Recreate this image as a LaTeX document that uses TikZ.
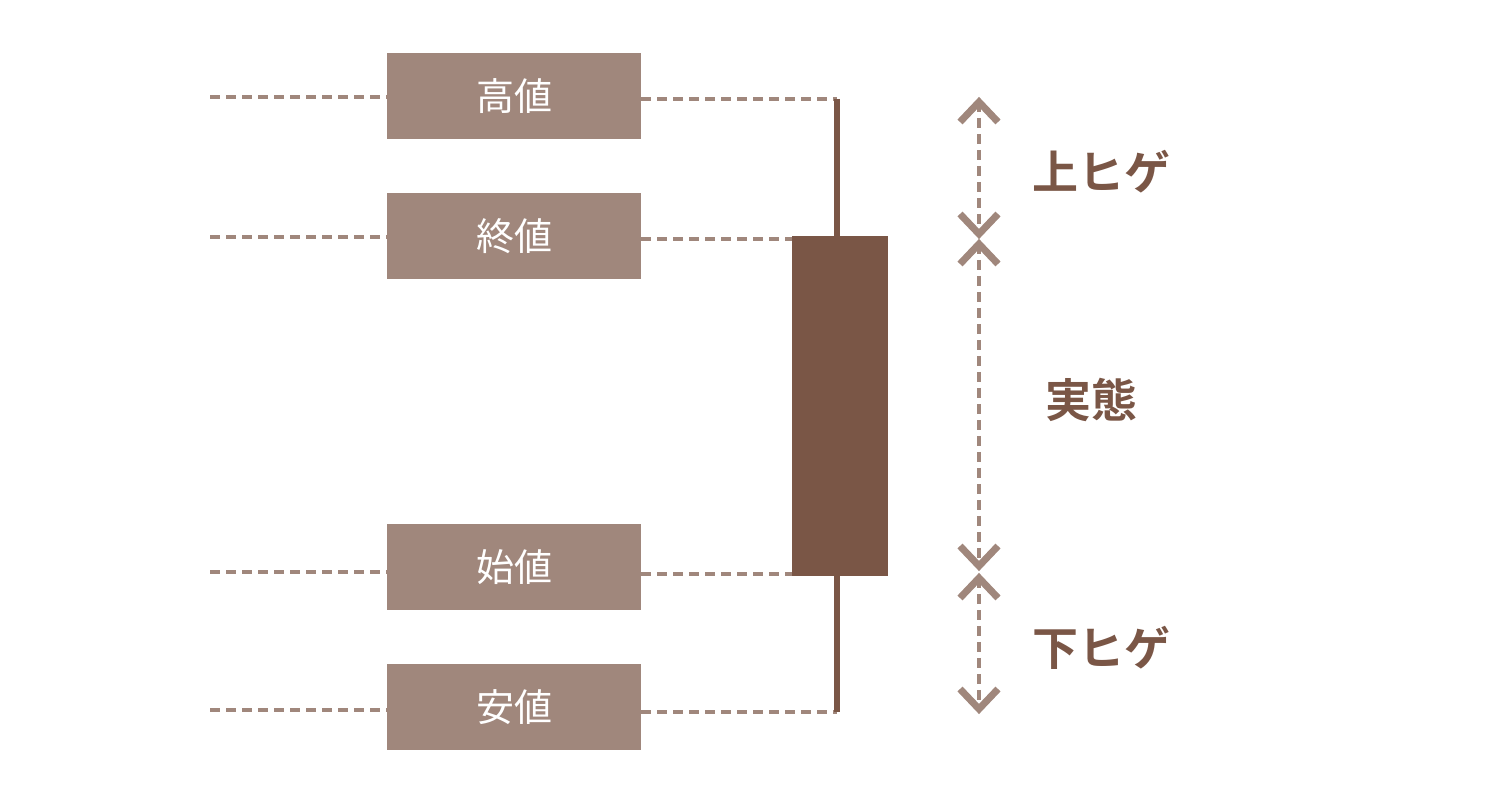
\documentclass[tikz,border=0pt]{standalone}
\usepackage{fontspec}
\newfontfamily\cjk{Noto Sans CJK JP}
\newfontfamily\cjkb{Noto Sans CJK JP Bold}
\definecolor{lbr}{HTML}{A0877C}
\definecolor{dbr}{HTML}{7A5646}
\begin{document}
\begin{tikzpicture}[x=0.5pt,y=-0.5pt,
 lab/.style={fill=lbr,minimum width=127pt,minimum height=43pt,inner sep=0,text=white,font=\cjk\fontsize{19}{19}\selectfont},
 dl/.style={lbr,line width=1.6pt,dash pattern=on 5pt off 3pt},
 chev/.style={lbr,line width=3.5pt},
 side/.style={text=dbr,font=\cjkb\fontsize{23}{23}\selectfont}]
\useasboundingbox (0,0) rectangle (1500,785);
\node[lab] (hi) at (514,96) {高値};
\node[lab] (cl) at (514,236) {終値};
\node[lab] (op) at (514,567) {始値};
\node[lab] (lo) at (514,707) {安値};
\coordinate (hiL) at (210,97); \coordinate (clL) at (210,237);
\coordinate (opL) at (210,572); \coordinate (loL) at (210,710);
\draw[dl] (hiL) -- (hi.west|-hiL); \draw[dl] (clL) -- (cl.west|-clL);
\draw[dl] (opL) -- (op.west|-opL); \draw[dl] (loL) -- (lo.west|-loL);
\node[fill=dbr,minimum width=48pt,minimum height=170pt,inner sep=0] (body) at (840,406) {};
\coordinate (wt) at (837,99); \coordinate (wb) at (837,712);
\draw[dl] (hi.east|-wt) -- (wt);
\draw[dl] (cl.east|-0,239) -- (body.west|-0,239);
\draw[dl] (op.east|-0,574) -- (body.west|-0,574);
\draw[dl] (lo.east|-wb) -- (wb);
\draw[dbr,line width=3pt] (wt) -- (body.north-|wt);
\draw[dbr,line width=3pt] (wb) -- (body.south-|wb);
\foreach \a/\b in {102/234,244/566,578/709}{
 \draw[dl] (979,\a) -- (979,\b);
 \draw[chev] (960,\a+20) -- (979,\a) -- (998,\a+20);
 \draw[chev] (960,\b-20) -- (979,\b) -- (998,\b-20);
}
\node[side] (u) at (1101,172) {上ヒゲ};
\node[side] (m) at (1091,400) {実態};
\node[side] (d) at (1101,648) {下ヒゲ};
\end{tikzpicture}
\end{document}
